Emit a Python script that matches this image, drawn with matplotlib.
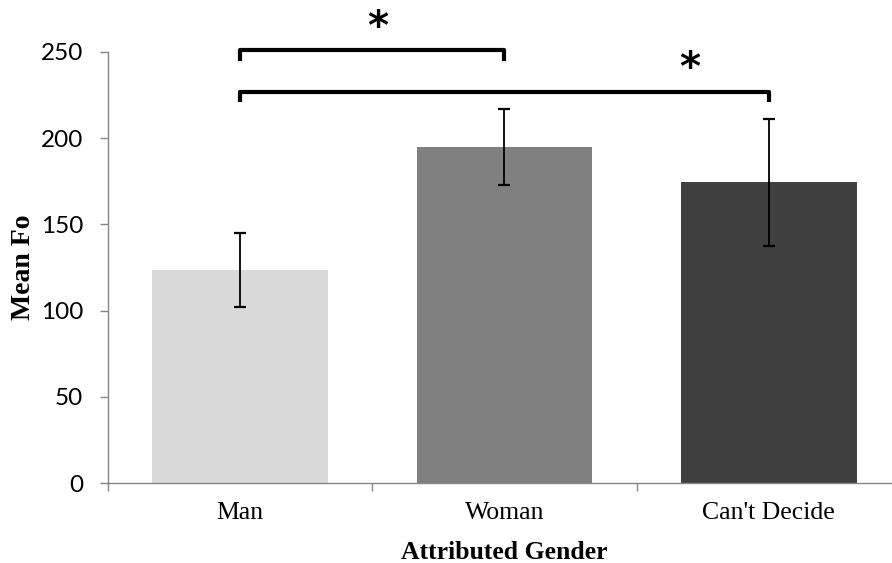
import numpy as np
import matplotlib.pyplot as plt

categories = ["Man", "Woman", "Can't Decide"]
mean_fo = [123.5, 195.0, 174.4]
errors = [21.5, 22.0, 36.8]
colors = ["#D9D9D9", "#808080", "#404040"]

fig = plt.figure(figsize=(8.92, 5.63), dpi=100)
ax = fig.add_axes([108 / 892, 1 - 483 / 563, (901 - 108) / 892, (483 - 52) / 563])

x = np.arange(len(categories))
ax.bar(x, mean_fo, width=0.665, color=colors, zorder=2)
ax.errorbar(x, mean_fo, yerr=errors, fmt="none", ecolor="black",
            elinewidth=1.3, capsize=4.3, capthick=1.6, zorder=3)

ax.set_xlim(-0.5, 2.5)
ax.set_ylim(0, 250)
ax.set_yticks([0, 50, 100, 150, 200, 250])
ax.set_xticks([-0.5, 0.5, 1.5, 2.5])
ax.set_xticklabels([])
ax.set_xticks(x, minor=True)
ax.set_xticklabels(categories, minor=True, family="Liberation Serif", fontsize=18.5)
ax.tick_params(axis="x", which="minor", length=0, pad=14)
ax.tick_params(axis="x", which="major", length=6, width=1, color="#868686")
ax.tick_params(axis="y", length=6, width=1, color="#868686", pad=12)
for lbl in ax.get_yticklabels():
    lbl.set_family("Lato")
    lbl.set_fontsize(17.5)

for side in ["top", "right"]:
    ax.spines[side].set_visible(False)
for side in ["left", "bottom"]:
    ax.spines[side].set_color("#868686")
    ax.spines[side].set_linewidth(1)

ax.set_xlabel("Attributed Gender", family="Liberation Serif", fontweight="bold",
              fontsize=18.5, labelpad=12)
ax.set_ylabel("Mean Fo", family="Liberation Serif", fontweight="bold",
              fontsize=20, labelpad=3)

# significance brackets
def bracket(x0, x1, y, leg, label, lx):
    ax.plot([x0, x0, x1, x1], [y - leg, y, y, y - leg], color="black", lw=3,
            solid_joinstyle="round", solid_capstyle="butt", clip_on=False, zorder=4)
    ax.text(lx, y + 13, label, ha="center", va="center", fontsize=29,
            fontweight="bold", family="DejaVu Sans", clip_on=False)

bracket(x[0], x[1], 251, 6, "*", 0.52)
bracket(x[0], x[2], 227, 6, "*", 1.7)

fig.savefig("out.png", dpi=100)
